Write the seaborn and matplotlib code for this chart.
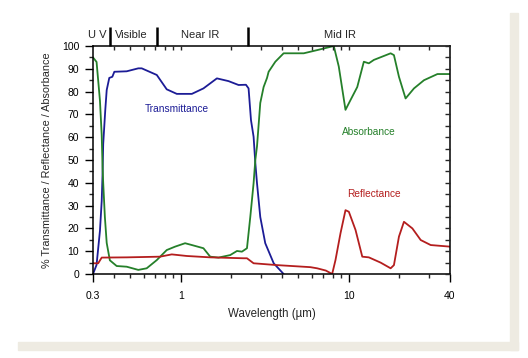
"""
Transmittance, reflectance and absorbance of a glazing across UV, visible,
near IR and mid IR wavelengths.
"""
import numpy as np
import pandas as pd
from matplotlib import pyplot as plt
from matplotlib.patches import Rectangle
from matplotlib.ticker import FixedLocator, NullFormatter
import seaborn as sns

# Transmittance curve (wavelength in um, percent)
trans_x = [0.300, 0.315, 0.330, 0.338, 0.342, 0.345, 0.355, 0.362, 0.375, 0.391,
           0.402, 0.476, 0.558, 0.585, 0.719, 0.824, 0.946, 1.163, 1.363, 1.639,
           1.922, 2.205, 2.441, 2.530, 2.615, 2.710, 2.775, 2.840, 2.970, 3.180,
           3.570, 4.090]
trans_y = [0, 4, 19, 32, 44, 57, 72, 80.7, 86, 86.5,
           88.7, 88.9, 90.2, 90.2, 87.3, 81, 79, 79, 81.4, 85.8,
           84.6, 82.9, 83, 81.4, 67.5, 60.2, 48.7, 39.8, 25, 13.5,
           4.7, 0]

# Absorbance curve
absorb_x = [0.300, 0.315, 0.322, 0.330, 0.338, 0.342, 0.345, 0.353, 0.362, 0.378,
            0.415, 0.476, 0.558, 0.626, 0.719, 0.824, 0.924, 1.060, 1.163, 1.363,
            1.495, 1.675, 1.967, 2.158, 2.310, 2.475, 2.590, 2.710, 2.775, 2.840,
            2.970, 3.109, 3.258, 3.330, 3.650, 4.090, 5.387, 6.475, 8.134, 8.710,
            9.550, 10.23, 11.22, 12.28, 13.15, 14.09, 17.73, 18.55, 19.87, 21.76,
            24.41, 28.01, 33.67, 40.0]
absorb_y = [95, 93, 85, 76, 61, 47, 40, 25, 13.6, 6,
            3.5, 3.2, 1.8, 2.5, 6.1, 10.5, 12, 13.5, 12.7, 11.3,
            7.6, 7.2, 8.3, 10.1, 9.8, 11.3, 25, 39.8, 50, 56,
            75, 82, 86, 88.7, 93.1, 96.8, 96.8, 98.2, 100, 91,
            72, 76.3, 82, 93.1, 92.4, 93.9, 96.8, 96, 86.5, 77,
            81.4, 85, 87.7, 87.7]

# Reflectance curve
reflect_x = [0.300, 0.322, 0.338, 0.476, 0.752, 0.883, 1.085, 1.495, 2.362, 2.475,
             2.710, 3.737, 5.906, 6.475, 7.300, 7.956, 8.325, 8.920, 9.550, 10.00,
             10.96, 12.02, 13.15, 15.45, 17.73, 18.55, 19.87, 21.28, 23.88, 26.77,
             30.70, 40.0]
reflect_y = [4.7, 4.7, 7.2, 7.3, 7.6, 8.6, 7.9, 7.3, 6.9, 6.9,
             4.7, 3.9, 3.0, 2.5, 1.5, 0, 6.1, 17.9, 28, 27.3,
             19.3, 7.6, 7.3, 5, 2.5, 3.9, 16.4, 22.9, 20, 14.9,
             12.7, 12]

series_names = ["Transmittance", "Absorbance", "Reflectance"]
series_colors = ["#1c1c96", "#25802a", "#b41e1e"]

x_ticks = [0.3, 1, 10, 40]
x_ticklabels = ["0.3", "1", "10", "40"]
x_minor = [0.4, 0.5, 0.6, 0.7, 0.8, 0.9, 2, 3, 4, 5, 6, 7, 8, 9, 20, 30]

band_edges = [0.38, 0.72, 2.5]
band_names = ["U V", "Visible", "Near IR", "Mid IR"]
band_label_x = [0.316, 0.505, 1.31, 8.85]

df = pd.concat(
    [
        pd.DataFrame({"wavelength": trans_x, "value": trans_y, "curve": "Transmittance"}),
        pd.DataFrame({"wavelength": absorb_x, "value": absorb_y, "curve": "Absorbance"}),
        pd.DataFrame({"wavelength": reflect_x, "value": reflect_y, "curve": "Reflectance"}),
    ],
    ignore_index=True,
)

sns.set_style("ticks")
plt.rcParams["font.family"] = ["Liberation Sans", "DejaVu Sans"]

W, H = 528, 358
fig = plt.figure(figsize=(W / 100, H / 100), dpi=100)
fig.patch.set_facecolor("white")

# Shadow strips around the panel
fig.patches.append(Rectangle((18 / W, 1 - 350 / H), 500 / W, 8 / H,
                             transform=fig.transFigure, color="#eeebe2", zorder=0))
fig.patches.append(Rectangle((510 / W, 1 - 350 / H), 8 / W, 337 / H,
                             transform=fig.transFigure, color="#eeebe2", zorder=0))

ax = fig.add_axes([93 / W, 1 - 274 / H, (450 - 93) / W, (274 - 46) / H])
ax.set_facecolor("white")

sns.lineplot(
    data=df, x="wavelength", y="value", hue="curve",
    hue_order=series_names, palette=series_colors,
    estimator=None, sort=False, lw=1.3, legend=False, ax=ax,
)

ax.set_xscale("log")
ax.set_xlim(0.3, 40)
ax.set_ylim(0, 100)

# Axes ticks (left and bottom point outward)
ax.xaxis.set_major_locator(FixedLocator(x_ticks))
ax.xaxis.set_minor_locator(FixedLocator(x_minor))
ax.set_xticklabels(x_ticklabels)
ax.xaxis.set_minor_formatter(NullFormatter())
ax.set_yticks(np.arange(0, 101, 10))
ax.set_yticks(np.arange(5, 100, 10), minor=True)
ax.tick_params(which="major", direction="out", length=6, width=1, labelsize=7.5,
               colors="black", pad=4)
ax.tick_params(which="minor", direction="out", length=3, width=1)
ax.tick_params(axis="x", which="major", pad=6)

for sp in ax.spines.values():
    sp.set_visible(True)
    sp.set_linewidth(1.1)
    sp.set_color("black")

# Right and top ticks point inward
ax_r = ax.twinx()
ax_r.set_ylim(0, 100)
ax_r.set_yticks(np.arange(0, 101, 10))
ax_r.set_yticks(np.arange(5, 100, 10), minor=True)
ax_r.tick_params(which="both", direction="in", length=3.5, width=1, labelright=False)
ax_t = ax.twiny()
ax_t.set_xscale("log")
ax_t.set_xlim(0.3, 40)
ax_t.xaxis.set_major_locator(FixedLocator(x_ticks[1:-1]))
ax_t.xaxis.set_minor_locator(FixedLocator(x_minor))
ax_t.xaxis.set_major_formatter(NullFormatter())
ax_t.xaxis.set_minor_formatter(NullFormatter())
ax_t.tick_params(which="both", direction="in", length=3, width=1)
for a in (ax_r, ax_t):
    for sp in a.spines.values():
        sp.set_visible(False)

ax.set_xlabel("Wavelength (µm)", fontsize=8.3, labelpad=5)
ax.set_ylabel("% Transmittance / Reflectance / Absorbance", fontsize=7.8, labelpad=7)

# Spectral band dividers and names above the plot
ax.vlines(band_edges, 1.0, 1.085, transform=ax.get_xaxis_transform(),
          colors="black", lw=1.8, clip_on=False)
for name, xpos in zip(band_names, band_label_x):
    ax.text(xpos, 1.05, name, transform=ax.get_xaxis_transform(),
            ha="center", va="center", fontsize=8)

# Curve names
ax.text(0.94, 72.4, "Transmittance", color=series_colors[0], fontsize=7.3, ha="center", va="center")
ax.text(13.1, 62.3, "Absorbance", color=series_colors[1], fontsize=7.3, ha="center", va="center")
ax.text(14.2, 35.1, "Reflectance", color=series_colors[2], fontsize=7.3, ha="center", va="center")

plt.savefig("out.png", dpi=100)
